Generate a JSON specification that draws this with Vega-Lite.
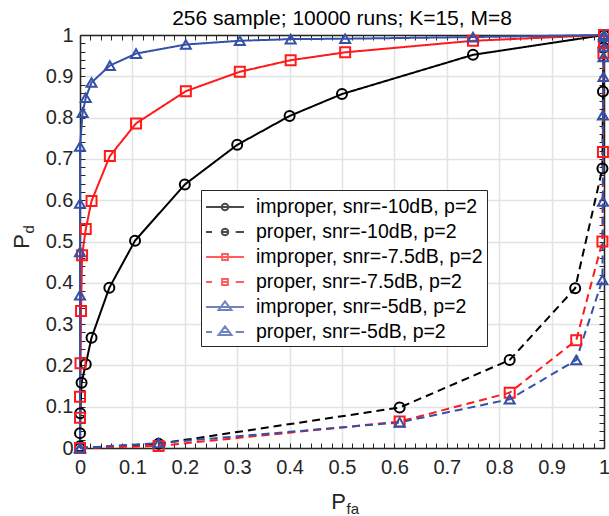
{
  "$schema": "https://vega.github.io/schema/vega-lite/v6.json",
  "width": 524,
  "height": 413,
  "autosize": "none",
  "padding": {"left": 80, "top": 35, "right": 5, "bottom": 68},
  "background": "white",
  "title": {"text": "256 sample; 10000 runs; K=15, M=8", "fontSize": 21, "font": "Liberation Sans", "fontWeight": "normal", "color": "#000000", "anchor": "middle", "baseline": "alphabetic", "frame": "group", "offset": 13, "dy": 34},
  "config": {
    "view": {"stroke": null},
    "legend": {
      "orient": "none", "legendX": 121, "legendY": 155,
      "fillColor": "white", "strokeColor": "#262626", "padding": 4,
      "labelFontSize": 19.5, "labelFont": "Liberation Sans", "labelColor": "#000000",
      "symbolSize": 576, "symbolStrokeWidth": 2, "rowPadding": 2, "labelOffset": 18, "symbolOffset": 7, "labelLimit": 400
    }
  },
  "layer": [
    {
      "data": {"values": [
        {"s": "improper, snr=-10dB, p=2", "x": 0, "y": 0},
        {"s": "improper, snr=-10dB, p=2", "x": 0, "y": 0.004},
        {"s": "improper, snr=-10dB, p=2", "x": 0, "y": 0.036},
        {"s": "improper, snr=-10dB, p=2", "x": 0.0005, "y": 0.084},
        {"s": "improper, snr=-10dB, p=2", "x": 0.003, "y": 0.158},
        {"s": "improper, snr=-10dB, p=2", "x": 0.011, "y": 0.203},
        {"s": "improper, snr=-10dB, p=2", "x": 0.022, "y": 0.267},
        {"s": "improper, snr=-10dB, p=2", "x": 0.056, "y": 0.388},
        {"s": "improper, snr=-10dB, p=2", "x": 0.105, "y": 0.502},
        {"s": "improper, snr=-10dB, p=2", "x": 0.2, "y": 0.638},
        {"s": "improper, snr=-10dB, p=2", "x": 0.3, "y": 0.734},
        {"s": "improper, snr=-10dB, p=2", "x": 0.4, "y": 0.804},
        {"s": "improper, snr=-10dB, p=2", "x": 0.5, "y": 0.857},
        {"s": "improper, snr=-10dB, p=2", "x": 0.75, "y": 0.952},
        {"s": "improper, snr=-10dB, p=2", "x": 1, "y": 1},
        {"s": "proper, snr=-10dB, p=2", "x": 0, "y": 0},
        {"s": "proper, snr=-10dB, p=2", "x": 0.15, "y": 0.01},
        {"s": "proper, snr=-10dB, p=2", "x": 0.61, "y": 0.098},
        {"s": "proper, snr=-10dB, p=2", "x": 0.82, "y": 0.213},
        {"s": "proper, snr=-10dB, p=2", "x": 0.945, "y": 0.387},
        {"s": "proper, snr=-10dB, p=2", "x": 0.997, "y": 0.677},
        {"s": "proper, snr=-10dB, p=2", "x": 0.998, "y": 0.863},
        {"s": "proper, snr=-10dB, p=2", "x": 0.999, "y": 0.97},
        {"s": "proper, snr=-10dB, p=2", "x": 1, "y": 1},
        {"s": "improper, snr=-7.5dB, p=2", "x": 0, "y": 0},
        {"s": "improper, snr=-7.5dB, p=2", "x": 0, "y": 0.073},
        {"s": "improper, snr=-7.5dB, p=2", "x": 0, "y": 0.124},
        {"s": "improper, snr=-7.5dB, p=2", "x": 0.001, "y": 0.205},
        {"s": "improper, snr=-7.5dB, p=2", "x": 0.002, "y": 0.332},
        {"s": "improper, snr=-7.5dB, p=2", "x": 0.004, "y": 0.467},
        {"s": "improper, snr=-7.5dB, p=2", "x": 0.011, "y": 0.53},
        {"s": "improper, snr=-7.5dB, p=2", "x": 0.022, "y": 0.598},
        {"s": "improper, snr=-7.5dB, p=2", "x": 0.057, "y": 0.707},
        {"s": "improper, snr=-7.5dB, p=2", "x": 0.107, "y": 0.786},
        {"s": "improper, snr=-7.5dB, p=2", "x": 0.202, "y": 0.864},
        {"s": "improper, snr=-7.5dB, p=2", "x": 0.305, "y": 0.911},
        {"s": "improper, snr=-7.5dB, p=2", "x": 0.402, "y": 0.939},
        {"s": "improper, snr=-7.5dB, p=2", "x": 0.506, "y": 0.958},
        {"s": "improper, snr=-7.5dB, p=2", "x": 0.75, "y": 0.986},
        {"s": "improper, snr=-7.5dB, p=2", "x": 1, "y": 1},
        {"s": "proper, snr=-7.5dB, p=2", "x": 0, "y": 0},
        {"s": "proper, snr=-7.5dB, p=2", "x": 0.15, "y": 0.005},
        {"s": "proper, snr=-7.5dB, p=2", "x": 0.61, "y": 0.064},
        {"s": "proper, snr=-7.5dB, p=2", "x": 0.82, "y": 0.134},
        {"s": "proper, snr=-7.5dB, p=2", "x": 0.947, "y": 0.261},
        {"s": "proper, snr=-7.5dB, p=2", "x": 0.997, "y": 0.5},
        {"s": "proper, snr=-7.5dB, p=2", "x": 0.998, "y": 0.717},
        {"s": "proper, snr=-7.5dB, p=2", "x": 0.999, "y": 0.956},
        {"s": "proper, snr=-7.5dB, p=2", "x": 1, "y": 0.985},
        {"s": "proper, snr=-7.5dB, p=2", "x": 1, "y": 1},
        {"s": "improper, snr=-5dB, p=2", "x": 0, "y": 0},
        {"s": "improper, snr=-5dB, p=2", "x": 0, "y": 0.37},
        {"s": "improper, snr=-5dB, p=2", "x": 0, "y": 0.475},
        {"s": "improper, snr=-5dB, p=2", "x": 0, "y": 0.592},
        {"s": "improper, snr=-5dB, p=2", "x": 0, "y": 0.73},
        {"s": "improper, snr=-5dB, p=2", "x": 0.005, "y": 0.812},
        {"s": "improper, snr=-5dB, p=2", "x": 0.011, "y": 0.848},
        {"s": "improper, snr=-5dB, p=2", "x": 0.022, "y": 0.885},
        {"s": "improper, snr=-5dB, p=2", "x": 0.057, "y": 0.926},
        {"s": "improper, snr=-5dB, p=2", "x": 0.107, "y": 0.955},
        {"s": "improper, snr=-5dB, p=2", "x": 0.202, "y": 0.977},
        {"s": "improper, snr=-5dB, p=2", "x": 0.305, "y": 0.986},
        {"s": "improper, snr=-5dB, p=2", "x": 0.402, "y": 0.99},
        {"s": "improper, snr=-5dB, p=2", "x": 0.506, "y": 0.991},
        {"s": "improper, snr=-5dB, p=2", "x": 0.75, "y": 0.995},
        {"s": "improper, snr=-5dB, p=2", "x": 1, "y": 1},
        {"s": "proper, snr=-5dB, p=2", "x": 0, "y": 0},
        {"s": "proper, snr=-5dB, p=2", "x": 0.15, "y": 0.012},
        {"s": "proper, snr=-5dB, p=2", "x": 0.61, "y": 0.062},
        {"s": "proper, snr=-5dB, p=2", "x": 0.82, "y": 0.118},
        {"s": "proper, snr=-5dB, p=2", "x": 0.947, "y": 0.213},
        {"s": "proper, snr=-5dB, p=2", "x": 0.997, "y": 0.407},
        {"s": "proper, snr=-5dB, p=2", "x": 0.998, "y": 0.597},
        {"s": "proper, snr=-5dB, p=2", "x": 0.998, "y": 0.806},
        {"s": "proper, snr=-5dB, p=2", "x": 0.999, "y": 0.899},
        {"s": "proper, snr=-5dB, p=2", "x": 0.999, "y": 0.947},
        {"s": "proper, snr=-5dB, p=2", "x": 1, "y": 0.971},
        {"s": "proper, snr=-5dB, p=2", "x": 1, "y": 0.996},
        {"s": "proper, snr=-5dB, p=2", "x": 1, "y": 1}
      ]},
      "encoding": {
        "x": {"field": "x", "type": "quantitative", "scale": {"domain": [0, 1], "nice": false, "zero": false},
          "axis": {"orient": "bottom",
            "values": [0,0.02,0.04,0.06,0.08,0.1,0.12,0.14,0.16,0.18,0.2,0.22,0.24,0.26,0.28,0.3,0.32,0.34,0.36,0.38,0.4,0.42,0.44,0.46,0.48,0.5,0.52,0.54,0.56,0.58,0.6,0.62,0.64,0.66,0.68,0.7,0.72,0.74,0.76,0.78,0.8,0.82,0.84,0.86,0.88,0.9,0.92,0.94,0.96,0.98,1],
            "labelExpr": "abs(datum.value*10-round(datum.value*10))<0.001 ? format(datum.value,'.1~f') : ''",
            "labelFont": "Liberation Sans", "labelFontSize": 20, "labelColor": "#262626", "labelPadding": 14, "labelFlush": false, "labelOverlap": false, "labelBound": false,
            "tickSize": -5, "tickColor": "#262626", "tickWidth": 1,
            "domainColor": "#262626", "domainWidth": 1.5,
            "grid": true, "gridColor": "#e3e3e3", "gridWidth": 1.5,
            "gridOpacity": {"condition": {"test": "abs(datum.value*10-round(datum.value*10))<0.001", "value": 1}, "value": 0},
            "title": "P", "titleFont": "Liberation Sans", "titleFontSize": 22, "titleFontWeight": "normal", "titleColor": "#262626",
            "titleX": 258, "titleY": 60, "titleAlign": "center", "titleBaseline": "alphabetic"}},
        "y": {"field": "y", "type": "quantitative", "scale": {"domain": [0, 1], "nice": false, "zero": false},
          "axis": {"orient": "left",
            "values": [0,0.02,0.04,0.06,0.08,0.1,0.12,0.14,0.16,0.18,0.2,0.22,0.24,0.26,0.28,0.3,0.32,0.34,0.36,0.38,0.4,0.42,0.44,0.46,0.48,0.5,0.52,0.54,0.56,0.58,0.6,0.62,0.64,0.66,0.68,0.7,0.72,0.74,0.76,0.78,0.8,0.82,0.84,0.86,0.88,0.9,0.92,0.94,0.96,0.98,1],
            "labelExpr": "abs(datum.value*10-round(datum.value*10))<0.001 ? format(datum.value,'.1~f') : ''",
            "labelFont": "Liberation Sans", "labelFontSize": 20, "labelColor": "#262626", "labelPadding": 12, "labelFlush": false, "labelOverlap": false, "labelBound": false,
            "tickSize": -5, "tickColor": "#262626", "tickWidth": 1,
            "domainColor": "#262626", "domainWidth": 1.5,
            "grid": true, "gridColor": "#e3e3e3", "gridWidth": 1.5,
            "gridOpacity": {"condition": {"test": "abs(datum.value*10-round(datum.value*10))<0.001", "value": 1}, "value": 0},
            "title": "P", "titleFont": "Liberation Sans", "titleFontSize": 22, "titleFontWeight": "normal", "titleColor": "#262626",
            "titleX": -52, "titleY": 206, "titleAngle": -90, "titleAlign": "center", "titleBaseline": "alphabetic"}},
        "color": {"field": "s", "type": "nominal",
          "scale": {"domain": ["improper, snr=-10dB, p=2", "proper, snr=-10dB, p=2", "improper, snr=-7.5dB, p=2", "proper, snr=-7.5dB, p=2", "improper, snr=-5dB, p=2", "proper, snr=-5dB, p=2"],
            "range": ["#000000", "#000000", "#ff1a1a", "#ff1a1a", "#3550a8", "#3550a8"]}, "legend": null}
      },
      "layer": [
        {
          "mark": {"type": "line", "strokeWidth": 2},
          "encoding": {
            "strokeDash": {"field": "s", "type": "nominal",
              "scale": {"domain": ["improper, snr=-10dB, p=2", "proper, snr=-10dB, p=2", "improper, snr=-7.5dB, p=2", "proper, snr=-7.5dB, p=2", "improper, snr=-5dB, p=2", "proper, snr=-5dB, p=2"],
                "range": [[1, 0], [8, 5], [1, 0], [8, 5], [1, 0], [8, 5]]}, "legend": null},
            "order": {"field": "y", "type": "quantitative"}
          }
        },
        {
          "mark": {"type": "point", "filled": false, "strokeWidth": 2, "opacity": 1},
          "encoding": {
            "shape": {"field": "s", "type": "nominal",
              "scale": {"domain": ["improper, snr=-10dB, p=2", "proper, snr=-10dB, p=2", "improper, snr=-7.5dB, p=2", "proper, snr=-7.5dB, p=2", "improper, snr=-5dB, p=2", "proper, snr=-5dB, p=2"],
                "range": ["circle", "circle", "square", "square", "triangle-up", "triangle-up"]}, "legend": null},
            "size": {"field": "s", "type": "nominal",
              "scale": {"domain": ["improper, snr=-10dB, p=2", "proper, snr=-10dB, p=2", "improper, snr=-7.5dB, p=2", "proper, snr=-7.5dB, p=2", "improper, snr=-5dB, p=2", "proper, snr=-5dB, p=2"],
                "range": [100, 100, 64, 64, 150, 150]}, "legend": null}
          }
        }
      ]
    },
    {
      "data": {"values": []},
      "mark": {"type": "point", "filled": false, "strokeWidth": 2},
      "encoding": {
        "x": {"field": "x", "type": "quantitative", "scale": {"domain": [0, 1], "nice": false, "zero": false},
          "axis": {"orient": "top",
            "values": [0,0.02,0.04,0.06,0.08,0.1,0.12,0.14,0.16,0.18,0.2,0.22,0.24,0.26,0.28,0.3,0.32,0.34,0.36,0.38,0.4,0.42,0.44,0.46,0.48,0.5,0.52,0.54,0.56,0.58,0.6,0.62,0.64,0.66,0.68,0.7,0.72,0.74,0.76,0.78,0.8,0.82,0.84,0.86,0.88,0.9,0.92,0.94,0.96,0.98,1],
            "labels": false, "grid": false, "title": null,
            "tickSize": -5, "tickColor": "#262626", "tickWidth": 1, "domainColor": "#262626", "domainWidth": 1.5}},
        "y": {"field": "y", "type": "quantitative", "scale": {"domain": [0, 1], "nice": false, "zero": false},
          "axis": {"orient": "right",
            "values": [0,0.02,0.04,0.06,0.08,0.1,0.12,0.14,0.16,0.18,0.2,0.22,0.24,0.26,0.28,0.3,0.32,0.34,0.36,0.38,0.4,0.42,0.44,0.46,0.48,0.5,0.52,0.54,0.56,0.58,0.6,0.62,0.64,0.66,0.68,0.7,0.72,0.74,0.76,0.78,0.8,0.82,0.84,0.86,0.88,0.9,0.92,0.94,0.96,0.98,1],
            "labels": false, "grid": false, "title": null,
            "tickSize": -5, "tickColor": "#262626", "tickWidth": 1, "domainColor": "#262626", "domainWidth": 1.5}},
        "stroke": {"field": "s", "type": "nominal",
          "scale": {"domain": ["improper, snr=-10dB, p=2", "proper, snr=-10dB, p=2", "improper, snr=-7.5dB, p=2", "proper, snr=-7.5dB, p=2", "improper, snr=-5dB, p=2", "proper, snr=-5dB, p=2"],
            "range": ["#000000", "#000000", "#ff1a1a", "#ff1a1a", "#3550a8", "#3550a8"]},
          "legend": {"title": null}},
        "shape": {"field": "s", "type": "nominal",
          "scale": {"domain": ["improper, snr=-10dB, p=2", "proper, snr=-10dB, p=2", "improper, snr=-7.5dB, p=2", "proper, snr=-7.5dB, p=2", "improper, snr=-5dB, p=2", "proper, snr=-5dB, p=2"],
            "range": [
              "M-1.58,0H1.58M-0.27,0A0.27,0.27,0,1,0,0.27,0A0.27,0.27,0,1,0,-0.27,0",
              "M-1.58,0H-1.08M-0.27,0H0.27M0.89,0H1.58M-0.27,0A0.27,0.27,0,1,0,0.27,0A0.27,0.27,0,1,0,-0.27,0",
              "M-1.58,0H1.58M-0.24,-0.24H0.24V0.24H-0.24Z",
              "M-1.58,0H-1.08M-0.24,0H0.24M0.89,0H1.58M-0.24,-0.24H0.24V0.24H-0.24Z",
              "M-1.58,0H1.58M0,-0.47L0.54,0.25H-0.54Z",
              "M-1.58,0H-1.08M-0.32,0H0.32M0.89,0H1.58M0,-0.47L0.54,0.25H-0.54Z"
            ]},
          "legend": {"title": null}}
      }
    },
    {
      "data": {"values": []},
      "mark": {"type": "point"},
      "encoding": {
        "x": {"field": "x", "type": "quantitative", "scale": {"domain": [0, 1], "nice": false},
          "axis": {"orient": "bottom", "domain": false, "ticks": false, "labels": false, "grid": false,
            "title": "fa", "titleFont": "Liberation Sans", "titleFontSize": 15, "titleFontWeight": "normal", "titleColor": "#262626",
            "titleX": 266, "titleY": 65, "titleAlign": "left", "titleBaseline": "alphabetic"}},
        "y": {"field": "y", "type": "quantitative", "scale": {"domain": [0, 1], "nice": false},
          "axis": {"orient": "left", "domain": false, "ticks": false, "labels": false, "grid": false,
            "title": "d", "titleFont": "Liberation Sans", "titleFontSize": 15, "titleFontWeight": "normal", "titleColor": "#262626",
            "titleX": -47, "titleY": 198, "titleAngle": -90, "titleAlign": "left", "titleBaseline": "alphabetic"}}
      }
    }
  ],
  "resolve": {
    "scale": {"x": "independent", "y": "independent", "shape": "independent", "stroke": "independent"},
    "axis": {"x": "independent", "y": "independent"}
  }
}
